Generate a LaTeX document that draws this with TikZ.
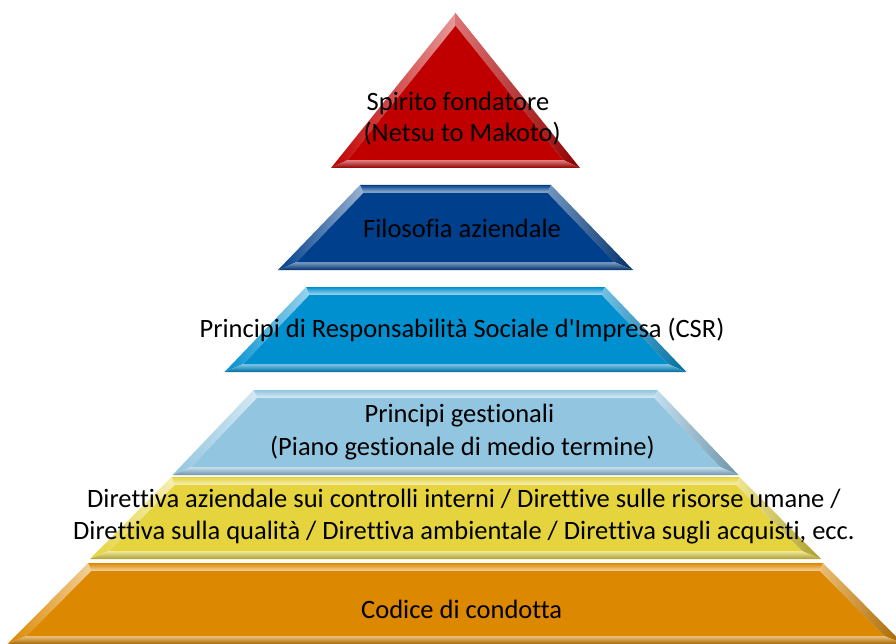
\documentclass[tikz,border=0pt]{standalone}
\usepackage{fontspec}
\setmainfont{Carlito}[Ligatures={NoCommon}]
\definecolor{cRed}{HTML}{C00000}
\definecolor{cDBlue}{HTML}{003F8C}
\definecolor{cBlue}{HTML}{0090D0}
\definecolor{cLBlue}{HTML}{92C5E0}
\definecolor{cYel}{HTML}{E5D43E}
\definecolor{cOra}{HTML}{DC8800}
\newcommand\pyBev{8}
\newcommand\pyCx{455.5}
% #1 top y, #2 bottom y, #3 top half width, #4 bottom half width, #5 colour
\newcommand\pyrlayer[5]{%
  \pgfmathsetmacro\pyS{(#4-#3)/(#2-#1)}%
  \pgfmathsetmacro\pyQ{\pyBev*sqrt(1+\pyS*\pyS)}%
  \pgfmathsetmacro\pyYi{max(#1+\pyBev,#1+(\pyQ-#3)/\pyS)}%
  \pgfmathsetmacro\pyTi{max(0,#3+\pyS*(\pyYi-#1)-\pyQ)}%
  \pgfmathsetmacro\pyYj{#2-\pyBev}%
  \pgfmathsetmacro\pyBj{#4-\pyS*\pyBev-\pyQ}%
  \coordinate (oTL) at ({\pyCx-#3},{#1});
  \coordinate (oTR) at ({\pyCx+#3},{#1});
  \coordinate (oBR) at ({\pyCx+#4},{#2});
  \coordinate (oBL) at ({\pyCx-#4},{#2});
  \coordinate (iTL) at ({\pyCx-\pyTi},{\pyYi});
  \coordinate (iTR) at ({\pyCx+\pyTi},{\pyYi});
  \coordinate (iBR) at ({\pyCx+\pyBj},{\pyYj});
  \coordinate (iBL) at ({\pyCx-\pyBj},{\pyYj});
  \ifdim #3pt>0pt
    \shade[top color=#5, bottom color=#5!35!white] (oTL) -- (oTR) -- (iTR) -- (iTL) -- cycle;
  \fi
  \shade[left color=#5, right color=#5!40!white] (oTL) -- (iTL) -- (iBL) -- (oBL) -- cycle;
  \shade[left color=#5!55!white, right color=#5!75!black] (oTR) -- (iTR) -- (iBR) -- (oBR) -- cycle;
  \shade[top color=#5!50!white, bottom color=#5!75!black] (iBL) -- (iBR) -- (oBR) -- (oBL) -- cycle;
  \fill[#5] (iTL) -- (iTR) -- (iBR) -- (iBL) -- cycle;
}
\tikzset{lbl/.style={anchor=base west, inner sep=0pt, text=black,
  font=\fontsize{26.5}{31}\selectfont}}
\begin{document}
\begin{tikzpicture}[x=1pt,y=-1pt]
\useasboundingbox (0,0) rectangle (896,644);
\begin{scope}
\clip (0,0) rectangle (896,644);
\pyrlayer{13}{168}{0}{124.5}{cRed}
\pyrlayer{185}{270}{95.5}{177.5}{cDBlue}
\pyrlayer{287}{372}{149.5}{231}{cBlue}
\pyrlayer{390}{475}{202}{283}{cLBlue}
\pyrlayer{477}{559}{284}{365.5}{cYel}
\pyrlayer{563}{644}{367.5}{448}{cOra}
\end{scope}
\node[lbl] (t1a) at (366.5,111) {Spirito fondatore};
\node[lbl] (t1b) at (363.5,142) {(Netsu to Makoto)};
\node[lbl] (t2) at (363,237) {Filosofia aziendale};
\node[lbl] (t3) at (199.5,337) {Principi di Responsabilità Sociale d\textquotesingle Impresa (CSR)};
\node[lbl] (t4a) at (364.5,422) {Principi gestionali};
\node[lbl] (t4b) at (270,455) {(Piano gestionale di medio termine)};
\node[lbl] (t5a) at (87,507) {Direttiva aziendale sui controlli interni / Direttive sulle risorse umane /};
\node[lbl] (t5b) at (73,539) {Direttiva sulla qualità / Direttiva ambientale / Direttiva sugli acquisti, ecc.};
\node[lbl] (t6) at (361,618) {Codice di condotta};
\end{tikzpicture}
\end{document}
